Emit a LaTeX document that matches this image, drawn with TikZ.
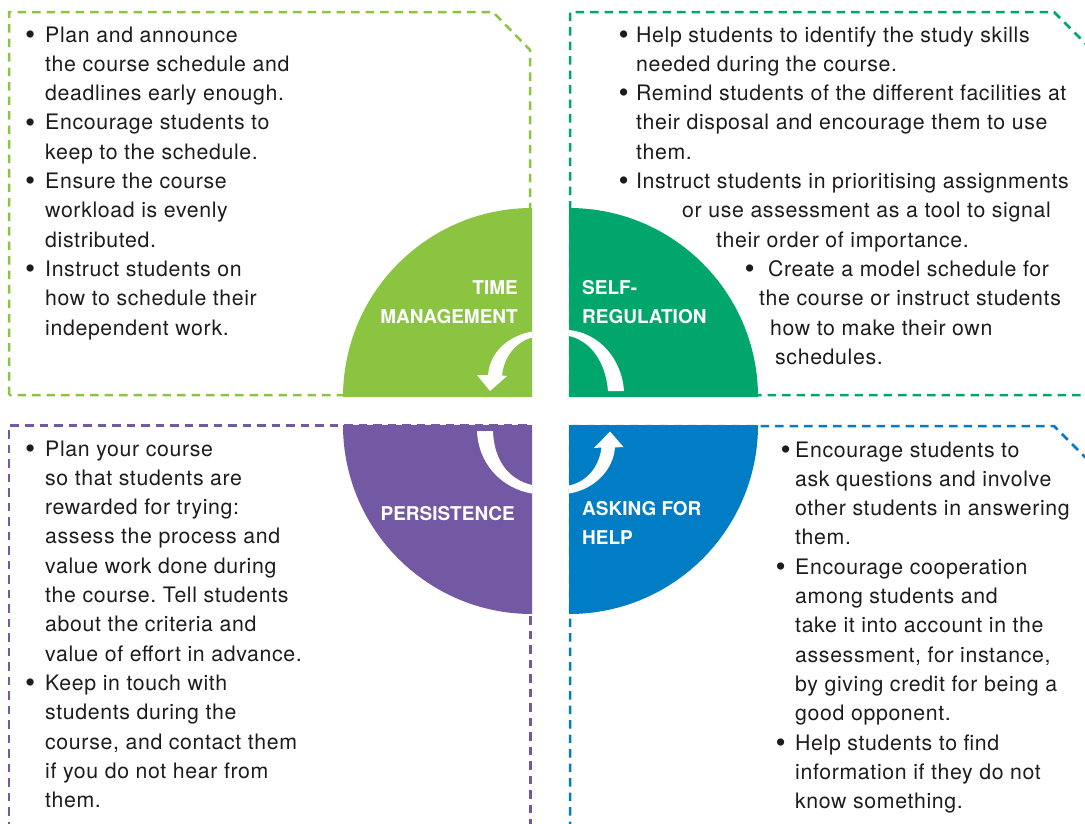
\documentclass[tikz,border=0pt]{standalone}
\usepackage{fontspec}
\setmainfont{TeX Gyre Heros}[LetterSpace=3]
\newfontfamily\lblfont{TeX Gyre Heros}
\usepackage{tikz}
\usepackage{xcolor}
\definecolor{tmgreen}{RGB}{139,196,64}
\definecolor{srteal}{RGB}{0,166,108}
\definecolor{pspurple}{RGB}{115,88,164}
\definecolor{ahblue}{RGB}{0,125,197}
\definecolor{ink}{RGB}{30,27,28}
\newcommand{\bul}{\raisebox{-2.2pt}{\fontsize{29}{29}\selectfont\textbullet}}
\frenchspacing

\begin{document}
\begin{tikzpicture}[x=1pt,y=-1pt,
  box/.style={dash pattern=on 8.5pt off 6pt, line width=2.5pt},
  body/.style={anchor=base west, inner sep=0pt, text=ink, font=\fontsize{21.3}{29.3}\selectfont},
  lbl/.style={inner sep=0pt, text=white, font=\lblfont\bfseries\fontsize{19}{29}\selectfont}]
\useasboundingbox (0,0) rectangle (1085,823);
\clip (0,0) rectangle (1085,823);
\draw[box, tmgreen] (9,395) -- (9,12) -- (493,12) -- (530,50) -- (530,395) -- cycle;
\draw[box, srteal] (1095,395) -- (570,395) -- (570,12) -- (1054,12) -- (1095,53);
\draw[box, pspurple] (9,830) -- (9,425.5) -- (530.5,425.5) -- (530.5,830);
\draw[box, ahblue] (570,830) -- (570,426) -- (1054,426) -- (1095,467);
\fill[tmgreen] (532,397) -- (343,397) arc[start angle=180, end angle=270, radius=189] -- cycle;
\fill[srteal] (569,397) -- (758,397) arc[start angle=0, end angle=-90, radius=189] -- cycle;
\fill[pspurple] (532,425) -- (343,425) arc[start angle=180, end angle=90, radius=189] -- cycle;
\fill[ahblue] (569,425) -- (758,425) arc[start angle=0, end angle=90, radius=189] -- cycle;
\fill[white] (532,331.5) .. controls (508,336) and (490,352) .. (488,375) -- (477,375) -- (490,391) -- (507,376) -- (502,375.5) .. controls (504,356) and (516,342) .. (532,337.5) -- cycle;
\fill[white] (569,330) .. controls (600,333) and (622,360) .. (624,391) -- (608,391) .. controls (606,364) and (592,341) .. (569,336) -- cycle;
\fill[white] (477,431) .. controls (478,462) and (500,488) .. (532,493.5) -- (532,485) .. controls (510,480) and (494,462) .. (493,431) -- cycle;
\fill[white] (569,493.5) .. controls (592,490) and (613,472) .. (615,447.5) -- (623.5,447) -- (610,431.5) -- (594,448) -- (601.5,447.5) .. controls (599,468) and (586,482) .. (569,485.5) -- cycle;
\node[lbl, anchor=base east] (tmlabel) at (518,294.3) {\begin{tabular}[t]{@{}r@{}}TIME\\MANAGEMENT\end{tabular}};
\node[lbl, anchor=base west] (srlabel) at (582,294.3) {\begin{tabular}[t]{@{}l@{}}SELF-\\REGULATION\end{tabular}};
\node[lbl, anchor=base east] (pslabel) at (515,520.7) {PERSISTENCE};
\node[lbl, anchor=base west] (ahlabel) at (582,515) {\begin{tabular}[t]{@{}l@{}}ASKING FOR\\HELP\end{tabular}};
\node[body] (tmtext) at (25,42) {\begin{tabular}[t]{@{}p{20pt}@{}l@{}}
\bul & Plan and announce\\
 & the course schedule and\\
 & deadlines early enough.\\
\bul & Encourage students to\\
 & keep to the schedule.\\
\bul & Ensure the course\\
 & workload is evenly\\
 & distributed.\\
\bul & Instruct students on\\
 & how to schedule their\\
 & independent work.
\end{tabular}};
\node[body] (srtext) at (618.5,42) {\begin{tabular}[t]{@{}p{17.5pt}@{}l@{}}
\bul & Help students to identify the study skills\\
 & needed during the course.\\
\bul & Remind students of the different facilities at\\
 & their disposal and encourage them to use\\
 & them.\\
\bul & Instruct students in prioritising assignments
\end{tabular}};
\node[body] (srline7) at (682,217.8) {or use assessment as a tool to signal};
\node[body] (srline8) at (716,247.1) {their order of importance.};
\node[body] (srbullet) at (744.5,276.4) {\bul};
\node[body] (srline9) at (768,276.4) {Create a model schedule for};
\node[body] (srline10) at (759,305.7) {the course or instruct students};
\node[body] (srline11) at (770,335) {how to make their own};
\node[body] (srline12) at (775,364.3) {schedules.};
\node[body] (pstext) at (25,456) {\begin{tabular}[t]{@{}p{20pt}@{}l@{}}
\bul & Plan your course\\
 & so that students are\\
 & rewarded for trying:\\
 & assess the process and\\
 & value work done during\\
 & the course. Tell students\\
 & about the criteria and\\
 & value of effort in advance.\\
\bul & Keep in touch with\\
 & students during the\\
 & course, and contact them\\
 & if you do not hear from\\
 & them.
\end{tabular}};
\node[body] (ahtext) at (775.5,457) {\begin{tabular}[t]{@{}p{19.5pt}@{}l@{}}
\hspace*{5pt}\bul & Encourage students to\\
 & ask questions and involve\\
 & other students in answering\\
 & them.\\
\bul & Encourage cooperation\\
 & among students and\\
 & take it into account in the\\
 & assessment, for instance,\\
 & by giving credit for being a\\
 & good opponent.\\
\bul & Help students to find\\
 & information if they do not\\
 & know something.
\end{tabular}};
\end{tikzpicture}
\end{document}
